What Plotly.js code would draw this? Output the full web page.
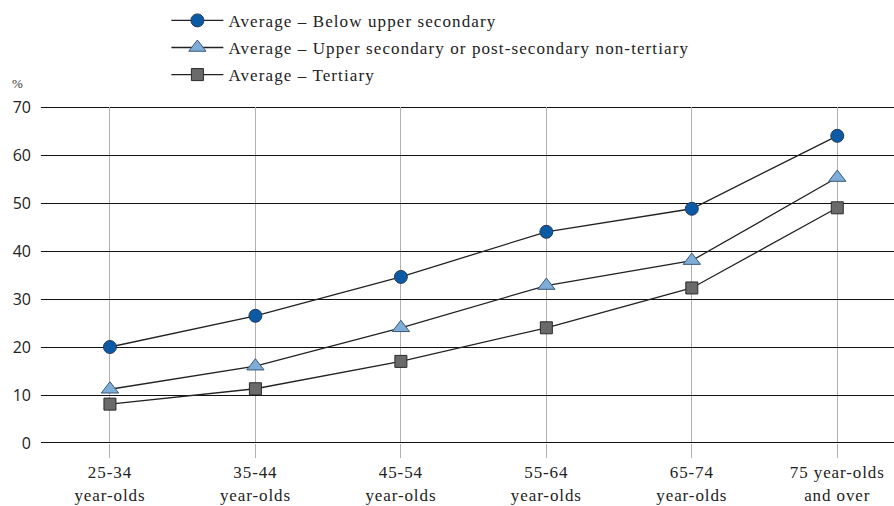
<!DOCTYPE html>
<html><head><meta charset="utf-8">
<script src="https://cdn.plot.ly/plotly-3.0.1.min.js"></script>
<style>body{margin:0;background:#fff}#c{width:894px;height:506px}
.legendtext{letter-spacing:1.1px}
.xtick text{letter-spacing:0.9px}
</style>
</head><body><div id="c"></div>
<script>
var categories = ["25-34<br>year-olds","35-44<br>year-olds","45-54<br>year-olds","55-64<br>year-olds","65-74<br>year-olds","75 year-olds<br>and over"];
var belowUpperSecondary = [20, 26.5, 34.6, 44, 48.8, 64];
var upperSecondary = [11.2, 16, 24, 32.8, 38, 55.3];
var tertiary = [8.1, 11.3, 17, 24, 32.3, 49];
var yTicks = [0,10,20,30,40,50,60,70];

var serif = 'Liberation Serif, Times New Roman, Times, serif';
var lineStyle = {color:'#222', width:1.3};
var traces = [
 {x:categories, y:belowUpperSecondary, name:'Average – Below upper secondary', legendgroup:'a', mode:'lines+markers', type:'scatter',
  line:lineStyle, marker:{symbol:'circle', size:13, color:'#0b5aa6', line:{color:'#2a3a55', width:1}}},
 {x:categories, y:upperSecondary, name:'Average – Upper secondary or post-secondary non-tertiary', legendgroup:'b', mode:'lines+markers', type:'scatter',
  line:lineStyle, marker:{symbol:'triangle-up', size:15, color:'#7eaed8', line:{color:'#3a5878', width:1}}},
 {x:categories, y:tertiary, name:'Average – Tertiary', legendgroup:'c', mode:'lines+markers', type:'scatter',
  line:lineStyle, marker:{symbol:'square', size:12, color:'#6a6a6a', line:{color:'#2a2a2a', width:1}}}
];
var layout = {
 width:894, height:506,
 margin:{l:41, r:0, t:107, b:63},
 paper_bgcolor:'#fff', plot_bgcolor:'#fff',
 showlegend:true,
 legend:{x:0.147, xanchor:'left', y:1.31, yanchor:'top', font:{family:serif, size:17, color:'#222'}, tracegroupgap:2, itemwidth:52, bgcolor:'rgba(0,0,0,0)'},
 xaxis:{type:'category', range:[-0.474, 5.39], showgrid:true, gridcolor:'#b0b0b0', gridwidth:1,
  ticks:'outside', ticklen:14, tickcolor:'#b0b0b0', tickwidth:1, showline:false, zeroline:false,
  tickfont:{family:serif, size:17, color:'#222'}},
 yaxis:{range:[0,70], tickvals:yTicks, showgrid:true, gridcolor:'#111', gridwidth:1, zeroline:false, showline:false,
  ticks:'', tickfont:{family:'Open Sans', size:16, color:'#222'}, ticklabelstandoff:9},
 shapes:[
  {type:'line', xref:'paper', yref:'y', x0:0, x1:1, y0:0, y1:0, line:{color:'#111', width:2.2}, layer:'above'},
  {type:'line', xref:'paper', yref:'y', x0:0, x1:1, y0:70, y1:70, line:{color:'#111', width:2.2}, layer:'below'}
 ],
 annotations:[{text:'%', xref:'paper', yref:'paper', x:-0.027, y:1.043, xanchor:'center', yanchor:'bottom', showarrow:false,
  font:{family:serif, size:13, color:'#333'}}]
};
Plotly.newPlot('c', traces, layout, {displayModeBar:false, staticPlot:true});
</script></body></html>
